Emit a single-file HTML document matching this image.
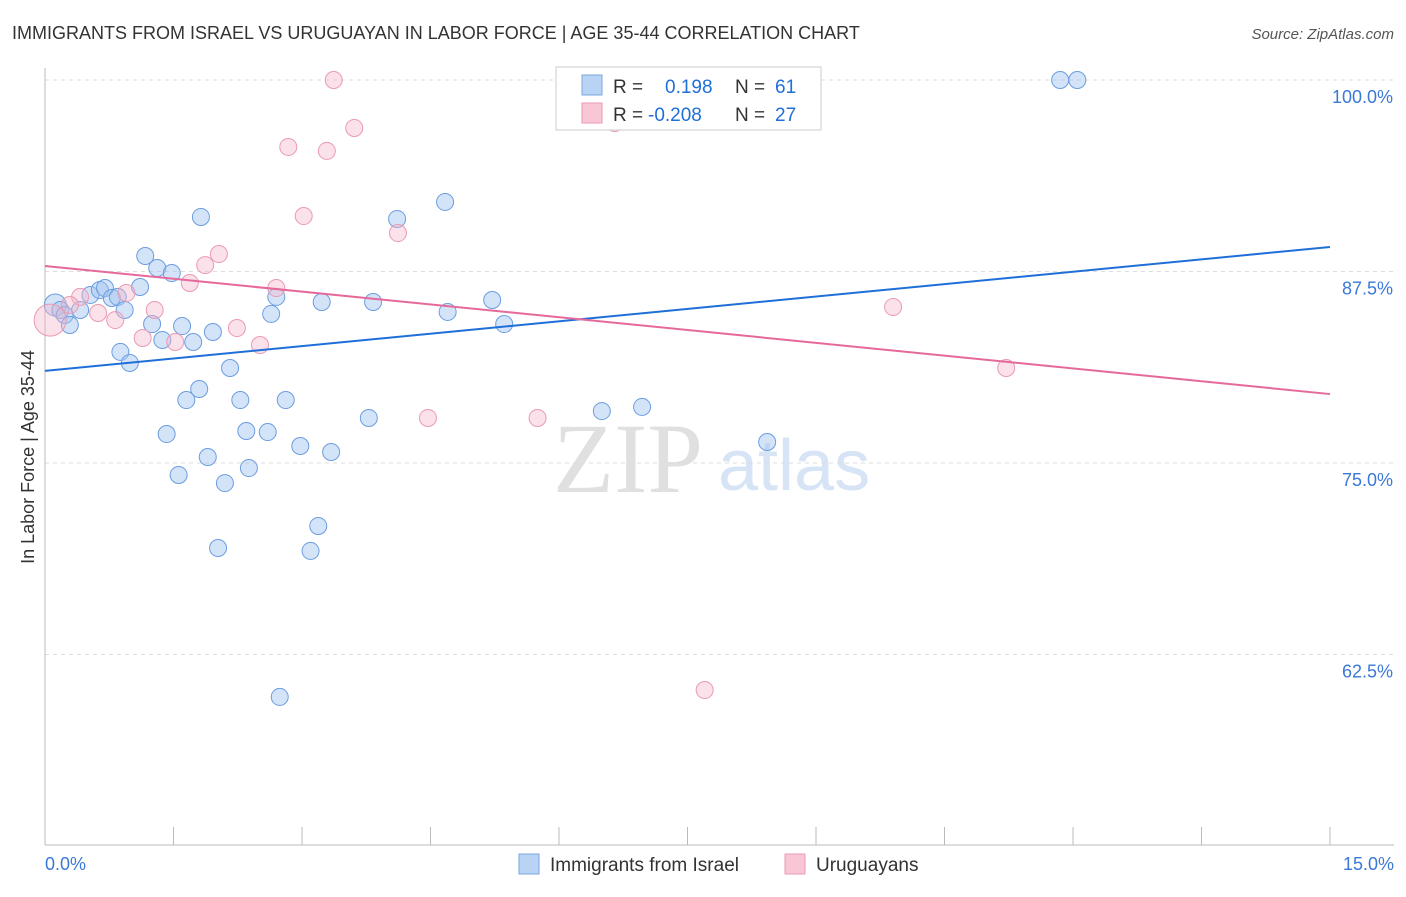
<!DOCTYPE html>
<html><head><meta charset="utf-8"><style>
body{margin:0;background:#fff;font-family:"Liberation Sans",sans-serif}
svg text{font-family:"Liberation Sans",sans-serif}
</style></head><body>
<svg id="c" width="1406" height="892">
<text x="12" y="39" font-size="18" fill="#333">IMMIGRANTS FROM ISRAEL VS URUGUAYAN IN LABOR FORCE | AGE 35-44 CORRELATION CHART</text>
<text x="1394" y="39" font-size="15" fill="#555" font-style="italic" text-anchor="end">Source: ZipAtlas.com</text>
<text x="553" y="492" font-size="100" fill="#e0e0e0" style="font-family:'Liberation Serif',serif">ZIP</text>
<text x="718" y="490" font-size="72" fill="#d6e4f5">atlas</text>
<text transform="translate(34,457) rotate(-90)" font-size="18" fill="#333" text-anchor="middle">In Labor Force | Age 35-44</text>
<g id="grid"></g><g id="marks"></g>
<g>
<rect x="556" y="67" width="265" height="63" fill="#fff" stroke="#ccc"/>
<rect x="582" y="75" width="20" height="20" fill="#b9d3f5" stroke="#7aa7e0"/>
<rect x="582" y="103" width="20" height="20" fill="#f9c6d5" stroke="#eb9ab3"/>
<text x="613" y="93" font-size="19" fill="#333">R =</text>
<text x="665" y="93" font-size="19" fill="#1f6fd8">0.198</text>
<text x="735" y="93" font-size="19" fill="#333">N =</text>
<text x="775" y="93" font-size="19" fill="#1f6fd8">61</text>
<text x="613" y="121" font-size="19" fill="#333">R =</text>
<text x="648" y="121" font-size="19" fill="#1f6fd8">-0.208</text>
<text x="735" y="121" font-size="19" fill="#333">N =</text>
<text x="775" y="121" font-size="19" fill="#1f6fd8">27</text>
</g>
<g>
<rect x="519" y="854" width="20" height="20" fill="#b9d3f5" stroke="#7aa7e0"/>
<text x="550" y="871" font-size="19" fill="#333">Immigrants from Israel</text>
<rect x="785" y="854" width="20" height="20" fill="#f9c6d5" stroke="#eb9ab3"/>
<text x="816" y="871" font-size="19" fill="#333">Uruguayans</text>
</g>
</svg>
<script>
const xTicks=[0,1.5,3,4.5,6,7.5,9,10.5,12,13.5,15];
const yTicks=[100,87.5,75,62.5];
const yTickLabels=["100.0%","87.5%","75.0%","62.5%"];
const israelX=[0.12,0.18,0.23,0.29,0.41,0.53,0.64,0.70,0.78,0.85,0.93,1.11,1.17,1.31,1.48,1.25,1.60,1.37,1.73,1.96,0.88,0.99,2.16,1.65,1.80,2.28,1.42,2.35,2.60,1.90,1.56,2.38,2.10,2.81,2.98,3.34,3.19,3.10,2.02,2.74,1.82,4.11,4.67,2.70,2.64,3.23,3.83,4.70,5.22,5.36,3.78,6.50,6.97,8.43,11.85,12.05];
const israelY=[85.31,84.99,84.66,84.01,84.99,85.97,86.29,86.42,85.77,85.84,84.99,86.49,88.51,87.73,87.40,84.07,83.94,83.03,82.90,83.55,82.25,81.53,81.20,79.11,79.83,79.11,76.89,77.09,77.02,75.39,74.22,74.67,73.69,79.11,76.11,75.72,70.89,69.26,69.45,59.73,91.06,90.93,92.04,85.84,84.73,85.51,85.51,84.86,85.64,84.07,77.94,78.39,78.66,76.37,100,100];
const uruX=[0.06,0.41,0.62,0.82,0.95,1.14,1.28,1.52,1.69,1.87,2.03,2.24,2.51,2.70,3.02,2.84,3.29,3.37,3.61,4.12,4.47,5.75,6.65,7.70,9.90,11.22,0.29];
const uruY=[84.33,85.84,84.79,84.33,86.10,83.16,84.99,82.90,86.75,87.92,88.64,83.81,82.70,86.42,91.12,95.63,95.37,100,96.87,90.01,77.94,77.94,97.19,60.18,85.18,81.20,85.31];
const israelTrend=[81.01,89.10];
const uruTrend=[87.86,79.50];
const X=v=>45+v/15*1285, Y=v=>80+(100-v)*15.32;
const NS="http://www.w3.org/2000/svg";
function mk(t,a,p){const e=document.createElementNS(NS,t);for(const k in a)e.setAttribute(k,a[k]);p.appendChild(e);return e;}
const g=document.getElementById('grid'),m=document.getElementById('marks');
yTicks.forEach((v,i)=>{
 const l=mk('line',{x1:45,x2:1394,y1:Y(v),y2:Y(v),stroke:'#ddd','stroke-dasharray':'4,4'},g);
 
 
 const t=mk('text',{x:1393,y:Y(v)+23,'font-size':18,fill:'#3b78d8','text-anchor':'end'},g);t.textContent=yTickLabels[i];
 
 
});
mk('line',{x1:45,x2:45,y1:68,y2:845,stroke:'#bbb'},g);
mk('line',{x1:45,x2:1394,y1:845,y2:845,stroke:'#bbb'},g);
xTicks.forEach(v=>{const l=mk('line',{x1:X(v),x2:X(v),y1:827,y2:845,stroke:'#bbb'},g);
 
 });
let t=mk('text',{x:45,y:870,'font-size':18,fill:'#3b78d8'},g);t.textContent="0.0%";


t=mk('text',{x:1394,y:870,'font-size':18,fill:'#3b78d8','text-anchor':'end'},g);t.textContent="15.0%";


israelX.forEach((x,i)=>{const c=mk('circle',{cx:X(x),cy:Y(israelY[i]),r:i<1?11:8.5,fill:'rgba(160,196,240,0.45)',stroke:'#6b9de0','stroke-width':1},m);
 
 });
uruX.forEach((x,i)=>{const c=mk('circle',{cx:X(x),cy:Y(uruY[i]),r:i<1?16:8.5,fill:'rgba(245,180,200,0.4)',stroke:'#eb9ab3','stroke-width':1},m);
 
 });
let l=mk('line',{x1:X(0),x2:X(15),y1:Y(israelTrend[0]),y2:Y(israelTrend[1]),stroke:'#1f6fd8','stroke-width':2},m);


l=mk('line',{x1:X(0),x2:X(15),y1:Y(uruTrend[0]),y2:Y(uruTrend[1]),stroke:'#e5699a','stroke-width':2},m);


</script>
</body></html>
